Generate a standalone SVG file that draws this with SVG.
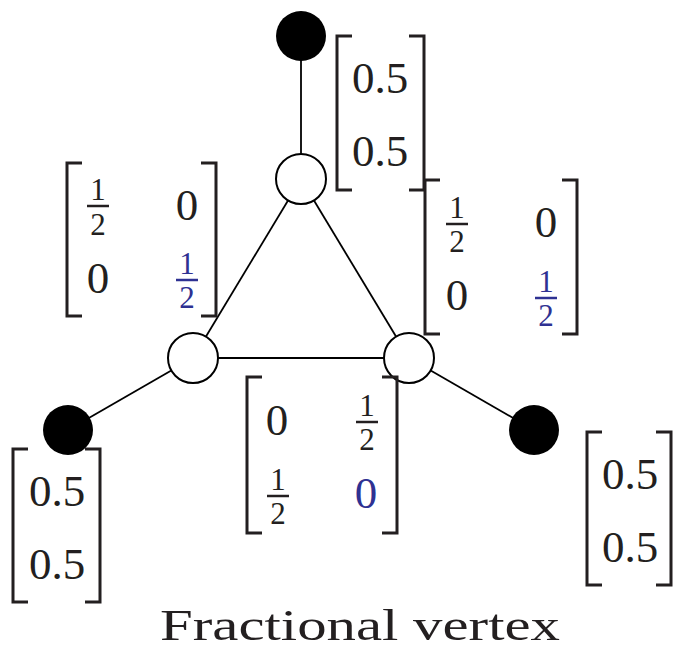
<svg xmlns="http://www.w3.org/2000/svg" width="677" height="655" viewBox="0 0 677 655">
<style>
.edge{stroke:#000;stroke-width:1.8;fill:none}
.blk{fill:#000}
.wht{fill:#fff;stroke:#000;stroke-width:2}
.br{fill:none;stroke:#231f20;stroke-width:3}
.t{font-family:"Liberation Serif","DejaVu Serif",serif;fill:#231f20;text-anchor:middle}
.big{font-size:45px}
.sm{font-size:31px}
.blue{fill:#2e3192}
.bar{stroke:#231f20;stroke-width:2.5}
.bbar{stroke:#2e3192;stroke-width:2.5}
</style>
<rect width="677" height="655" fill="#fff"/>
<g id="connectors">
<line class="edge" x1="301" y1="36" x2="301" y2="179"/>
<line class="edge" x1="301" y1="179" x2="193" y2="358"/>
<line class="edge" x1="301" y1="179" x2="409" y2="358"/>
<line class="edge" x1="193" y1="358" x2="409" y2="358"/>
<line class="edge" x1="193" y1="358" x2="68" y2="430"/>
<line class="edge" x1="409" y1="358" x2="534" y2="430"/>
</g>
<g id="n-top-black"><circle class="blk" cx="301" cy="36" r="25"/></g>
<g id="n-top-white"><circle class="wht" cx="301" cy="179" r="25"/></g>
<g id="n-left-white"><circle class="wht" cx="193" cy="358" r="25"/></g>
<g id="n-right-white"><circle class="wht" cx="409" cy="358" r="25"/></g>
<g id="n-left-black"><circle class="blk" cx="68" cy="430" r="25"/></g>
<g id="n-right-black"><circle class="blk" cx="534" cy="430" r="25"/></g>

<g id="v-top">
<path class="br" d="M352,36 H337 V190 H352"/>
<path class="br" d="M409,36 H424 V190 H409"/>
<text class="t big" x="380" y="93">0.5</text>
<text class="t big" x="380" y="166">0.5</text>
</g>
<g id="v-left">
<path class="br" d="M28,449 H13 V602 H28"/>
<path class="br" d="M85,449 H100 V602 H85"/>
<text class="t big" x="57" y="506">0.5</text>
<text class="t big" x="57" y="579">0.5</text>
</g>
<g id="v-right">
<path class="br" d="M602,432 H587 V585 H602"/>
<path class="br" d="M656,432 H671 V585 H656"/>
<text class="t big" x="630" y="489">0.5</text>
<text class="t big" x="630" y="562">0.5</text>
</g>

<g id="m-left">
<path class="br" d="M82,163 H67 V316 H82"/>
<path class="br" d="M201,163 H216 V316 H201"/>
<text class="t sm" x="98" y="200">1</text>
<line class="bar" x1="87" y1="206" x2="109" y2="206"/>
<text class="t sm" x="98" y="235">2</text>
<text class="t big" x="187" y="220">0</text>
<text class="t big" x="98" y="293">0</text>
<text class="t sm blue" x="187" y="274">1</text>
<line class="bbar" x1="176" y1="280" x2="198" y2="280"/>
<text class="t sm blue" x="187" y="308">2</text>
</g>
<g id="m-right">
<path class="br" d="M440,180 H425 V334 H440"/>
<path class="br" d="M562,180 H577 V334 H562"/>
<text class="t sm" x="457" y="218">1</text>
<line class="bar" x1="446" y1="224" x2="468" y2="224"/>
<text class="t sm" x="457" y="252">2</text>
<text class="t big" x="546" y="237">0</text>
<text class="t big" x="457" y="310">0</text>
<text class="t sm blue" x="546" y="292">1</text>
<line class="bbar" x1="535" y1="298" x2="557" y2="298"/>
<text class="t sm blue" x="546" y="326">2</text>
</g>
<g id="m-bottom">
<path class="br" d="M262,377 H247 V533 H262"/>
<path class="br" d="M382,377 H397 V533 H382"/>
<text class="t big" x="277" y="435">0</text>
<text class="t sm" x="367" y="416">1</text>
<line class="bar" x1="356" y1="422" x2="378" y2="422"/>
<text class="t sm" x="367" y="450">2</text>
<text class="t sm" x="278" y="490">1</text>
<line class="bar" x1="267" y1="496" x2="289" y2="496"/>
<text class="t sm" x="278" y="524">2</text>
<text class="t big blue" x="366" y="508">0</text>
</g>
<g id="title">
<text class="t" x="360" y="640" font-size="45" textLength="400" lengthAdjust="spacingAndGlyphs">Fractional vertex</text>
</g>
</svg>
